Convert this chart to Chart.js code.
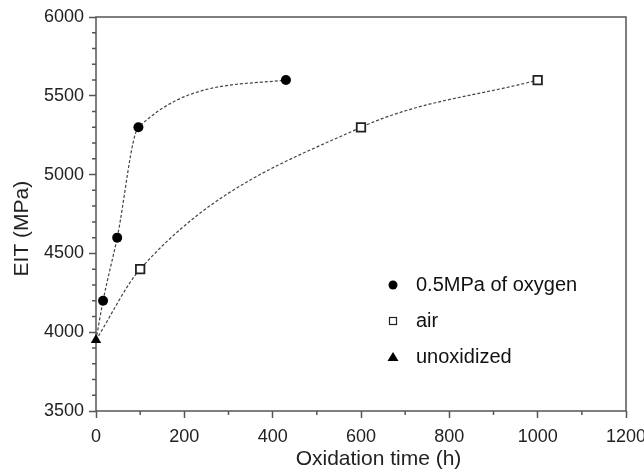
<!DOCTYPE html>
<html>
<head>
<meta charset="utf-8">
<script src="https://cdn.jsdelivr.net/npm/chart.js@4.4.1/dist/chart.umd.min.js"></script>
<style>
  html, body { margin: 0; padding: 0; background: #fff; }
</style>
</head>
<body>
<canvas id="chart" width="644" height="472"></canvas>
<script>
// data
const oxygenTime = [16, 48, 96, 430];
const oxygenEIT = [4200, 4600, 5300, 5600];
const airTime = [100, 600, 1000];
const airEIT = [4400, 5300, 5600];
const unoxTime = [0];
const unoxEIT = [3950];
const seriesLabels = ["0.5MPa of oxygen", "air", "unoxidized"];
const xTicks = [0, 200, 400, 600, 800, 1000, 1200];
const yTicks = [3500, 4000, 4500, 5000, 5500, 6000];
const xMinor = [100, 300, 500, 700, 900, 1100];
const yMinor = [3600, 3700, 3800, 3900, 4100, 4200, 4300, 4400, 4600, 4700, 4800, 4900,
  5100, 5200, 5300, 5400, 5600, 5700, 5800, 5900];

const FONT = "'Liberation Sans', Arial, sans-serif";
const AXIS = "#555";
const NB = "\u00a0";

function pts(xs, ys) {
  return xs.map((x, i) => ({ x: x, y: ys[i] }));
}

// fitted curves start at the unoxidized point
const oxygenCurve = pts(unoxTime.concat(oxygenTime), unoxEIT.concat(oxygenEIT));
const airCurve = pts(unoxTime.concat(airTime), unoxEIT.concat(airEIT));

const framePlugin = {
  id: "frame",
  beforeDatasetsDraw(chart) {
    const ctx = chart.ctx;
    const a = chart.chartArea;
    const xs = chart.scales.x, ys = chart.scales.y;
    ctx.save();
    ctx.strokeStyle = AXIS;
    ctx.lineWidth = 1.5;
    ctx.strokeRect(a.left, a.top, a.right - a.left, a.bottom - a.top);
    ctx.beginPath();
    xMinor.forEach(v => {
      const px = xs.getPixelForValue(v);
      ctx.moveTo(px, a.bottom);
      ctx.lineTo(px, a.bottom + 4);
    });
    yMinor.forEach(v => {
      const py = ys.getPixelForValue(v);
      ctx.moveTo(a.left - 4, py);
      ctx.lineTo(a.left, py);
    });
    ctx.stroke();

    // legend inside the plot
    const lx = 393, tx = 416;
    const rows = [285, 321, 357];
    ctx.font = "20px " + FONT;
    ctx.fillStyle = "#111";
    ctx.textBaseline = "middle";
    rows.forEach((y, i) => {
      ctx.fillText(seriesLabels[i], tx, y);
    });
    ctx.fillStyle = "#000";
    ctx.beginPath();
    ctx.arc(lx, rows[0], 4.5, 0, Math.PI * 2);
    ctx.fill();
    ctx.strokeStyle = "#222";
    ctx.lineWidth = 1.2;
    ctx.strokeRect(lx - 3.5, rows[1] - 3.5, 7, 7);
    ctx.beginPath();
    ctx.moveTo(lx, rows[2] - 5);
    ctx.lineTo(lx + 5.5, rows[2] + 4);
    ctx.lineTo(lx - 5.5, rows[2] + 4);
    ctx.closePath();
    ctx.fill();
    ctx.restore();
  }
};

const ctx = document.getElementById("chart").getContext("2d");
const chart = new Chart(ctx, {
  type: "scatter",
  data: {
    datasets: [
      {
        label: seriesLabels[0],
        data: pts(oxygenTime, oxygenEIT),
        pointStyle: "circle",
        pointRadius: 5,
        backgroundColor: "#000",
        borderColor: "#000",
        borderWidth: 0,
        clip: false,
        order: 1,
      },
      {
        label: seriesLabels[1],
        data: pts(airTime, airEIT),
        pointStyle: "rect",
        pointRadius: 6,
        backgroundColor: "#fff",
        borderColor: "#222",
        borderWidth: 1.8,
        clip: false,
        order: 1,
      },
      {
        label: seriesLabels[2],
        data: pts(unoxTime, unoxEIT),
        pointStyle: "triangle",
        pointRadius: 6,
        backgroundColor: "#000",
        borderColor: "#000",
        borderWidth: 0,
        clip: false,
        order: 1,
      },
      {
        type: "line",
        label: "oxygen fit",
        data: oxygenCurve,
        showLine: true,
        pointRadius: 0,
        borderColor: "#444",
        borderWidth: 1.2,
        borderDash: [3, 2],
        cubicInterpolationMode: "monotone",
        fill: false,
        order: 2,
      },
      {
        type: "line",
        label: "air fit",
        data: airCurve,
        showLine: true,
        pointRadius: 0,
        borderColor: "#444",
        borderWidth: 1.2,
        borderDash: [3, 2],
        cubicInterpolationMode: "monotone",
        fill: false,
        order: 2,
      },
    ],
  },
  options: {
    responsive: false,
    animation: false,
    devicePixelRatio: 1,
    layout: { padding: { top: 17, right: 18, left: 0, bottom: 0 } },
    plugins: {
      legend: { display: false },
      tooltip: { enabled: false },
    },
    scales: {
      x: {
        type: "linear",
        min: 0,
        max: 1200,
        afterBuildTicks: (s) => { s.ticks = xTicks.map(v => ({ value: v })); },
        afterFit: (s) => { s.height = 61; s.paddingLeft = 0; s.paddingRight = 0; },
        border: { display: false },
        grid: { drawOnChartArea: false, drawTicks: true, tickLength: 7, tickColor: AXIS, tickWidth: 1.5 },
        ticks: {
          color: "#222",
          font: { family: FONT, size: 18 },
          padding: 8,
          maxRotation: 0,
          callback: (v) => String(v),
        },
        title: {
          display: true,
          // leading spaces push the title right like the original
          text: NB.repeat(6) + "Oxidation time (h)",
          color: "#222",
          font: { family: FONT, size: 21 },
          padding: { top: 0, bottom: 0 },
        },
      },
      y: {
        type: "linear",
        min: 3500,
        max: 6000,
        afterBuildTicks: (s) => { s.ticks = yTicks.map(v => ({ value: v })); },
        afterFit: (s) => { s.width = 96; s.paddingTop = 0; s.paddingBottom = 0; },
        border: { display: false },
        grid: { drawOnChartArea: false, drawTicks: true, tickLength: 7, tickColor: AXIS, tickWidth: 1.5 },
        ticks: {
          color: "#222",
          font: { family: FONT, size: 18 },
          padding: 5,
          callback: (v) => String(v),
        },
        title: {
          display: true,
          // trailing spaces shift the rotated title down like the original
          text: "EIT (MPa)" + NB.repeat(5),
          color: "#222",
          font: { family: FONT, size: 21 },
          padding: { top: 10, bottom: 0 },
        },
      },
    },
  },
  plugins: [framePlugin],
});
</script>
</body>
</html>
